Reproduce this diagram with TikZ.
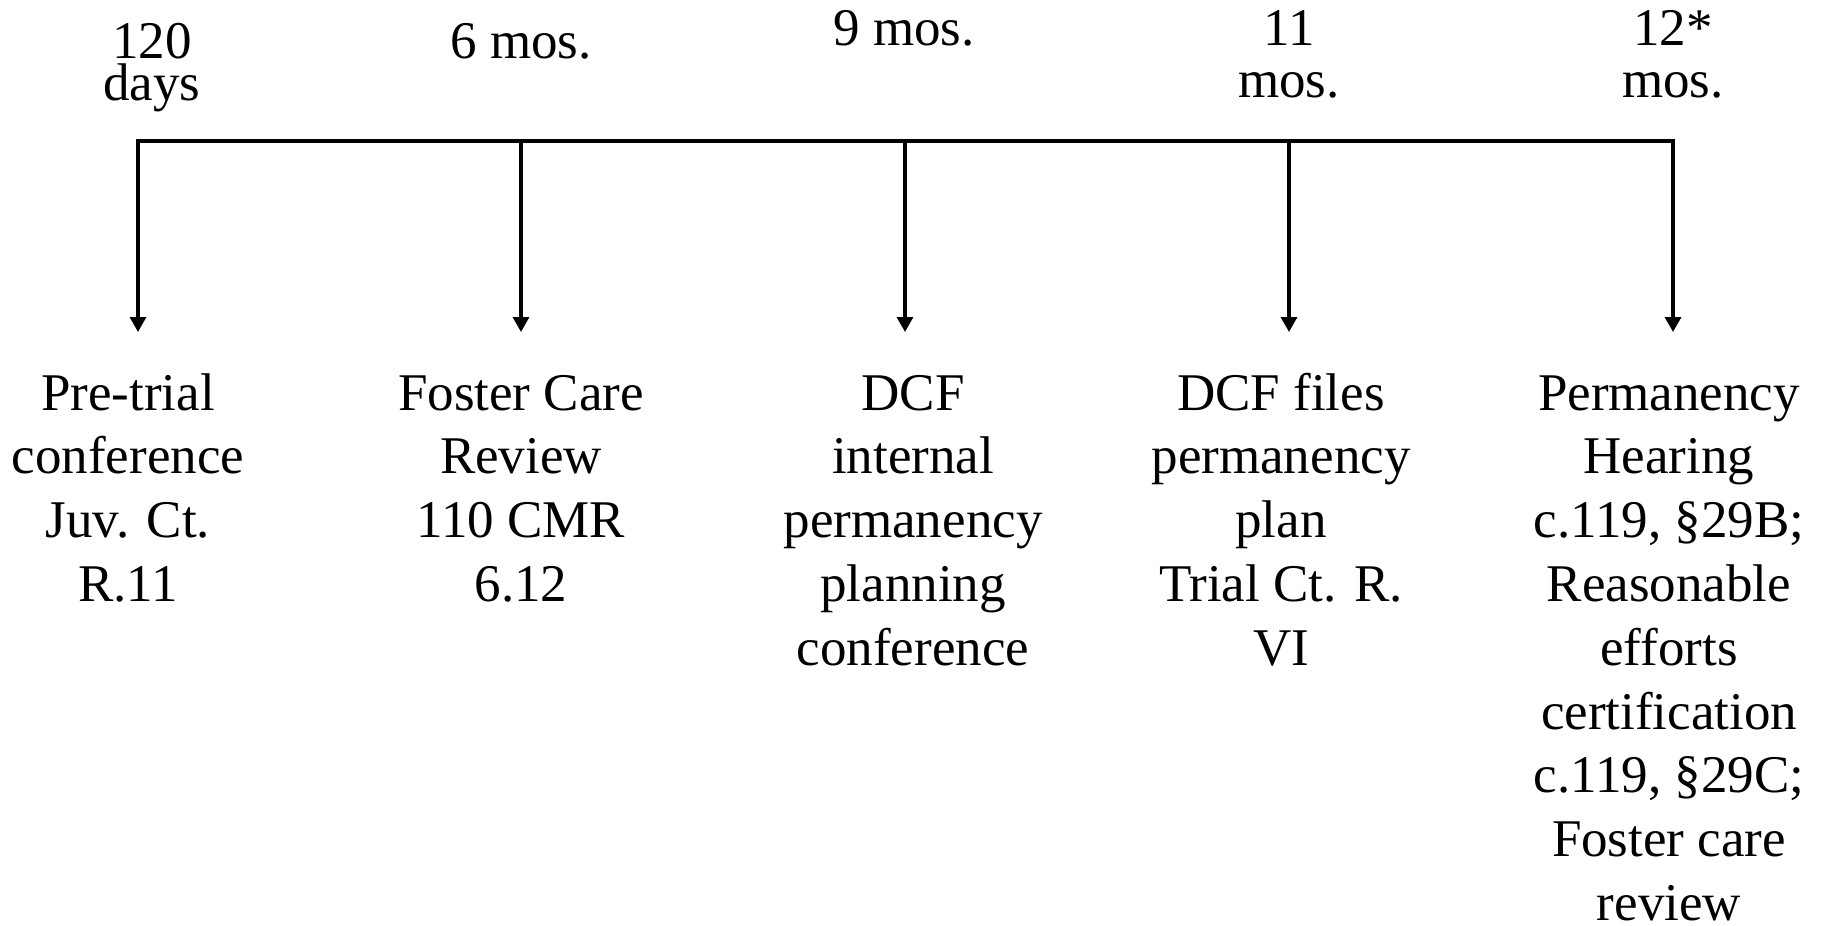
\documentclass[tikz,border=0pt]{standalone}
\usepackage{fontspec}
\setmainfont{Liberation Serif}
\usetikzlibrary{arrows.meta, positioning}
\tikzset{
    timeline/.style={line width=3.3pt, line cap=rect},
    tickarrow/.style={line width=3.3pt, -{Triangle[width=16pt, length=15pt]}},
    toplabel/.style={anchor=base, align=center, inner sep=0pt, font=\fontsize{53}{52}\selectfont},
    eventlabel/.style={anchor=base, align=center, inner sep=0pt, font=\fontsize{53}{63.8}\selectfont}
}

\begin{document}
\begin{tikzpicture}[x=1pt, y=-1pt]
  \useasboundingbox (0,0) rectangle (1829,926);
  % points on the time line
  \coordinate (m1) at (138, 141);
  \coordinate (m2) at (521, 141);
  \coordinate (m3) at (905, 141);
  \coordinate (m4) at (1289, 141);
  \coordinate (m5) at (1673, 141);
  % arrow ends
  \coordinate (a1) at (138, 332);
  \coordinate (a2) at (521, 332);
  \coordinate (a3) at (905, 332);
  \coordinate (a4) at (1289, 332);
  \coordinate (a5) at (1673, 332);
  % times (base = last line)
  \node[toplabel, font=\fontsize{53}{42}\selectfont] (t1) at (152, 100) {120\\days};
  \node[toplabel] (t2) at (521, 58) {6 mos.};
  \node[toplabel] (t3) at (904, 45) {9 mos.};
  \node[toplabel] (t4) at (1289, 97) {11\\mos.};
  \node[toplabel] (t5) at (1673, 97) {12*\\mos.};
  % events (base = last line)
  \node[eventlabel] (e1) at (128, 601.4) {Pre-trial\\conference\\Juv. Ct.\\R.11};
  \node[eventlabel] (e2) at (521, 601.4) {Foster Care\\Review\\110 CMR\\6.12};
  \node[eventlabel] (e3) at (913, 665.2) {DCF\\internal\\permanency\\planning\\conference};
  \node[eventlabel] (e4) at (1281, 665.2) {DCF files\\permanency\\plan\\Trial Ct. R.\\VI};
  \node[eventlabel] (e5) at (1669, 920.4) {Permanency\\Hearing\\c.119, \S29B;\\Reasonable\\efforts\\certification\\c.119, \S29C;\\Foster care\\review};
  \draw[timeline] (m1) -- (m5);
  \draw[tickarrow] (m1) -- (a1);
  \draw[tickarrow] (m2) -- (a2);
  \draw[tickarrow] (m3) -- (a3);
  \draw[tickarrow] (m4) -- (a4);
  \draw[tickarrow] (m5) -- (a5);
\end{tikzpicture}
\end{document}
